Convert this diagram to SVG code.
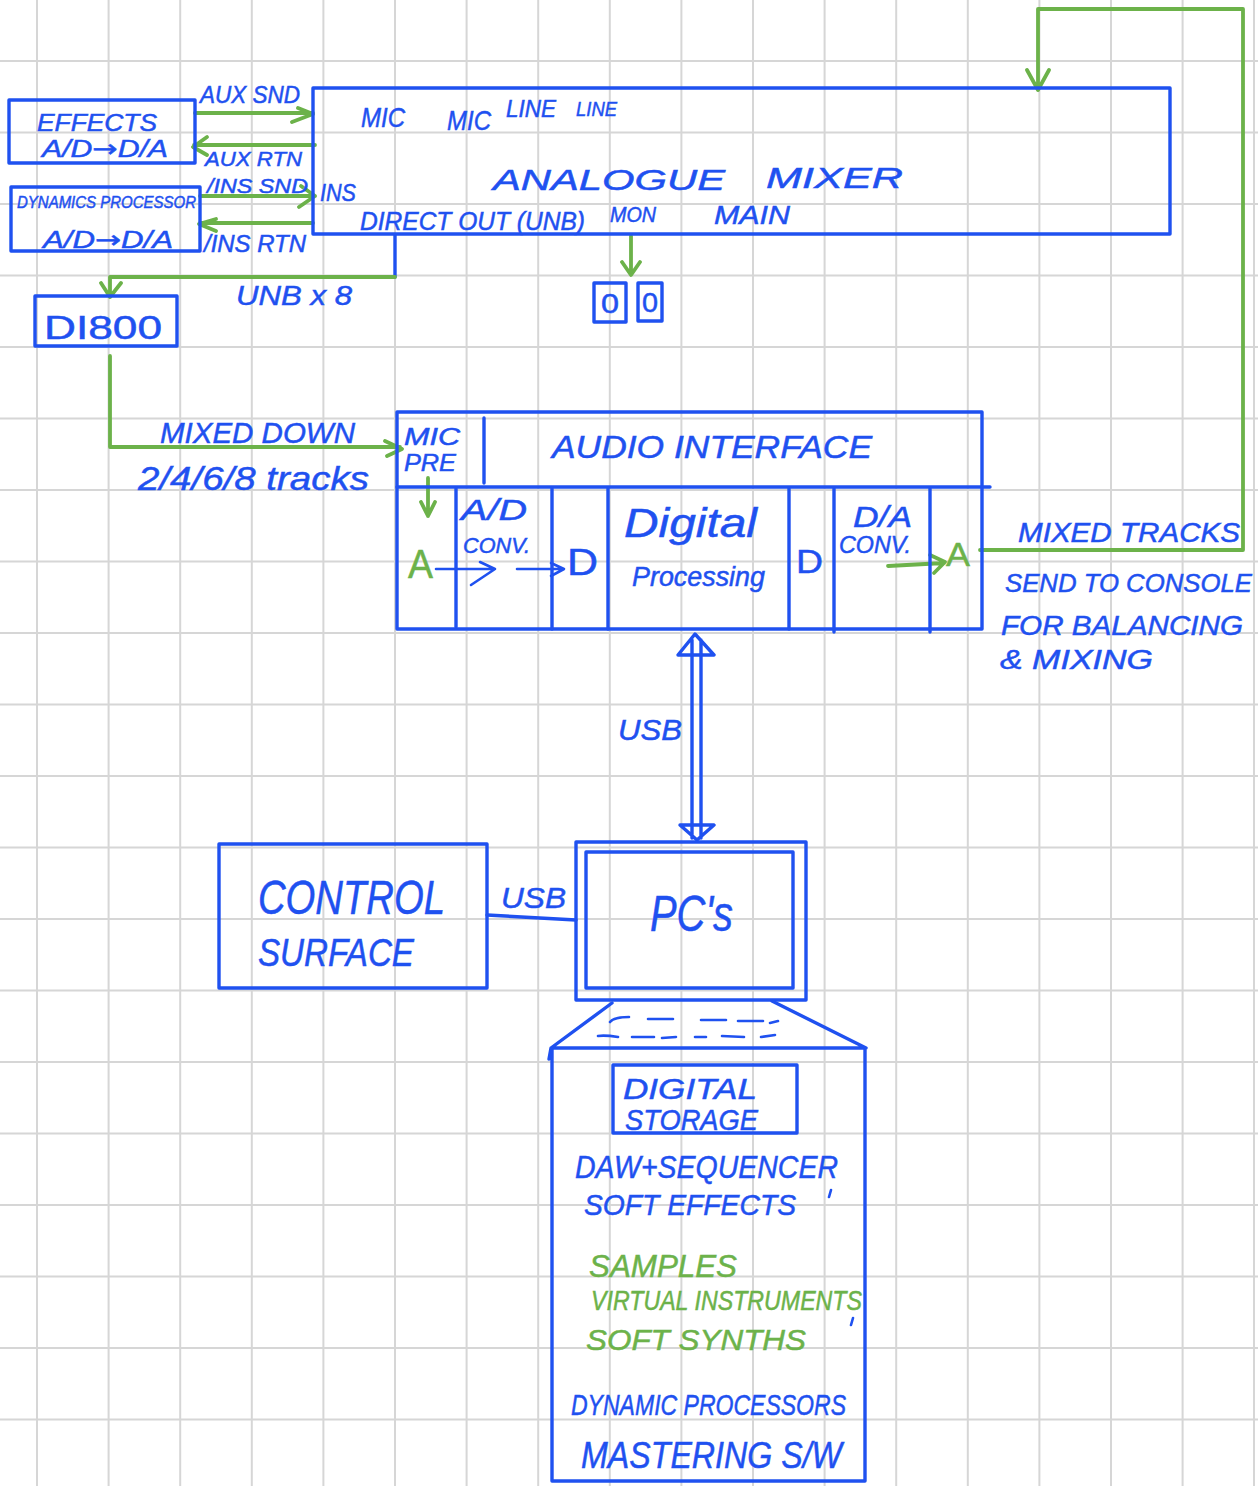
<svg xmlns="http://www.w3.org/2000/svg" width="1258" height="1486" viewBox="0 0 1258 1486">
<style>
.g{stroke:#d6d6d6;stroke-width:2;fill:none}
.b{stroke:#1f51f0;stroke-width:3.4;fill:none;stroke-linejoin:round;stroke-linecap:round}
.b2{stroke:#1f51f0;stroke-width:2.6;fill:none;stroke-linecap:round;stroke-linejoin:round}
.c{stroke:#6cb24a;stroke-width:3.8;fill:none;stroke-linecap:round;stroke-linejoin:round}
text{font-family:"Liberation Sans",Arial,sans-serif;font-style:italic;fill:#1f51f0;font-size:24px;stroke:#1f51f0;stroke-width:0.5}
.t{fill:#6cb24a;stroke:#6cb24a}
.u{font-style:normal}
.ar{font-family:"DejaVu Sans",sans-serif;font-style:normal}
</style>
<rect width="1258" height="1486" fill="#fff"/>
<g id="grid">
<path class="g" d="M37 0V1486M108.600 0V1486M180.200 0V1486M251.800 0V1486M323.400 0V1486M395 0V1486M466.600 0V1486M538.200 0V1486M609.800 0V1486M681.400 0V1486M753 0V1486M824.600 0V1486M896.200 0V1486M967.800 0V1486M1039.400 0V1486M1111 0V1486M1182.600 0V1486M1254 0V1486"/>
<path class="g" d="M0 61H1258M0 132.500H1258M0 204H1258M0 275.500H1258M0 347H1258M0 418.500H1258M0 490H1258M0 561.500H1258M0 633H1258M0 704.500H1258M0 776H1258M0 847.500H1258M0 919H1258M0 990.500H1258M0 1062H1258M0 1133.500H1258M0 1205H1258M0 1276.500H1258M0 1348H1258M0 1419.500H1258"/>
</g>
<g id="connectors">
<path class="c" d="M195 113H313M298 108L313 114L292 122"/>
<path class="c" d="M315 145H194M207 137L193 147L207 155"/>
<path class="c" d="M200 196H315M301 186L315 196L299 207"/>
<path class="c" d="M313 223H200M216 219L199 224L216 231"/>
<path class="b" d="M395 235V277"/>
<path class="c" d="M395 277H110V297M101 283L110 297L121 283"/>
<path class="c" d="M110 356V447H400M385 441L402 449L387 456"/>
<path class="c" d="M631 236V274M622 262L631 275L640 262"/>
<path class="c" d="M428 478V516M421 502L428 516L435 502"/>
<path class="c" d="M1038 90V9H1243V550H980M1027 70L1038 90L1049 70"/>
<path class="c" d="M888 566L944 563M930 555L945 562L934 573"/>
<path class="b2" d="M436 569H495M480 562L495 569L471 585"/>
<path class="b2" d="M517 569H563M551 563L564 569L551 576"/>
<path class="b" d="M692 640V838M701 640V838M678 655L695 634L714 655ZM680 825L697 840L714 825Z"/>
<path class="b" d="M487 915L576 920"/>
</g>
<g id="effects">
<rect class="b" x="9" y="100" width="186" height="63"/>
<text x="37" y="131" textLength="120" lengthAdjust="spacingAndGlyphs">EFFECTS</text>
<text x="42" y="157" textLength="126" lengthAdjust="spacingAndGlyphs">A/D<tspan class="ar">→</tspan>D/A</text>
</g>
<g id="dynamics">
<rect class="b" x="11" y="187" width="189" height="64"/>
<text x="17" y="208" textLength="179" lengthAdjust="spacingAndGlyphs" style="font-size:17px">DYNAMICS PROCESSOR</text>
<text x="43" y="248" textLength="130" lengthAdjust="spacingAndGlyphs">A/D<tspan class="ar">→</tspan>D/A</text>
</g>
<g id="labels">
<text x="200" y="103" textLength="100" lengthAdjust="spacingAndGlyphs">AUX SND</text>
<text x="205" y="166" textLength="97" lengthAdjust="spacingAndGlyphs" style="font-size:21px">AUX RTN</text>
<text x="207" y="193" textLength="101" lengthAdjust="spacingAndGlyphs" style="font-size:21px">/INS SND</text>
<text x="204" y="252" textLength="102" lengthAdjust="spacingAndGlyphs" style="font-size:23px">/INS RTN</text>
<text x="236" y="305" textLength="116" lengthAdjust="spacingAndGlyphs" style="font-size:28px">UNB x 8</text>
<text x="160" y="443" textLength="195" lengthAdjust="spacingAndGlyphs" style="font-size:30px">MIXED DOWN</text>
<text x="138" y="490" textLength="231" lengthAdjust="spacingAndGlyphs" style="font-size:34px">2/4/6/8 tracks</text>
<text x="1018" y="542" textLength="222" lengthAdjust="spacingAndGlyphs" style="font-size:27px">MIXED TRACKS</text>
<text x="1005" y="592" textLength="247" lengthAdjust="spacingAndGlyphs" style="font-size:25.500px">SEND TO CONSOLE</text>
<text x="1001" y="635" textLength="242" lengthAdjust="spacingAndGlyphs" style="font-size:27px">FOR BALANCING</text>
<text x="1000" y="669" textLength="153" lengthAdjust="spacingAndGlyphs" style="font-size:27px">&amp; MIXING</text>
<text x="618" y="740" textLength="64" lengthAdjust="spacingAndGlyphs" style="font-size:30px">USB</text>
<text x="501" y="908" textLength="65" lengthAdjust="spacingAndGlyphs" style="font-size:30px">USB</text>
</g>
<g id="analogue-mixer">
<rect class="b" x="313" y="88" width="857" height="146"/>
<text x="361" y="127" textLength="44" lengthAdjust="spacingAndGlyphs" style="font-size:28px">MIC</text>
<text x="447" y="130" textLength="44" lengthAdjust="spacingAndGlyphs" style="font-size:28px">MIC</text>
<text x="506" y="117" textLength="50" lengthAdjust="spacingAndGlyphs" style="font-size:23px">LINE</text>
<text x="576" y="116" textLength="41" lengthAdjust="spacingAndGlyphs" style="font-size:21px">LINE</text>
<text x="320" y="201" textLength="36" lengthAdjust="spacingAndGlyphs" style="font-size:24px">INS</text>
<text x="493" y="190" textLength="232" lengthAdjust="spacingAndGlyphs" style="font-size:30px">ANALOGUE</text>
<text x="766" y="188" textLength="137" lengthAdjust="spacingAndGlyphs" style="font-size:30px">MIXER</text>
<text x="360" y="230" textLength="225" lengthAdjust="spacingAndGlyphs" style="font-size:25px">DIRECT OUT (UNB)</text>
<text x="610" y="222" textLength="46" lengthAdjust="spacingAndGlyphs" style="font-size:22px">MON</text>
<text x="714" y="224" textLength="76" lengthAdjust="spacingAndGlyphs" style="font-size:26px">MAIN</text>
</g>
<g id="speakers">
<rect class="b" x="594" y="283" width="32" height="39"/>
<rect class="b" x="638" y="283" width="24" height="38"/>
<text class="u" x="601" y="313" textLength="18" lengthAdjust="spacingAndGlyphs" style="font-size:28px">0</text>
<text class="u" x="642" y="312" textLength="16" lengthAdjust="spacingAndGlyphs" style="font-size:28px">0</text>
</g>
<g id="di800">
<rect class="b" x="35" y="296" width="142" height="50"/>
<text class="u" x="44" y="339" textLength="118" lengthAdjust="spacingAndGlyphs" style="font-size:34px">DI800</text>
</g>
<g id="audio-interface">
<rect class="b" x="397" y="412" width="585" height="217"/>
<path class="b" d="M397 487H990M484 418V483M456 489V627M552 489V629M608 489V629M789 489V629M834 489V632M930 489V632"/>
<text x="404" y="445" textLength="56" lengthAdjust="spacingAndGlyphs" style="font-size:24px">MIC</text>
<text x="404" y="471" textLength="52" lengthAdjust="spacingAndGlyphs" style="font-size:24px">PRE</text>
<text x="552" y="458" textLength="320" lengthAdjust="spacingAndGlyphs" style="font-size:31px">AUDIO INTERFACE</text>
<text x="461" y="520" textLength="66" lengthAdjust="spacingAndGlyphs" style="font-size:30px">A/D</text>
<text x="463" y="553" textLength="67" lengthAdjust="spacingAndGlyphs" style="font-size:22px">CONV.</text>
<text class="t u" x="408" y="578" textLength="25" lengthAdjust="spacingAndGlyphs" style="font-size:40px">A</text>
<text class="u" x="567" y="575" textLength="31" lengthAdjust="spacingAndGlyphs" style="font-size:36px">D</text>
<text x="624" y="537" textLength="133" lengthAdjust="spacingAndGlyphs" style="font-size:40px">Digital</text>
<text x="632" y="586" textLength="133" lengthAdjust="spacingAndGlyphs" style="font-size:28px">Processing</text>
<text class="u" x="796" y="573" textLength="27" lengthAdjust="spacingAndGlyphs" style="font-size:34px">D</text>
<text x="853" y="527" textLength="59" lengthAdjust="spacingAndGlyphs" style="font-size:30px">D/A</text>
<text x="839" y="553" textLength="72" lengthAdjust="spacingAndGlyphs" style="font-size:24px">CONV.</text>
<text class="t u" x="946" y="566" textLength="24" lengthAdjust="spacingAndGlyphs" style="font-size:34px">A</text>
</g>
<g id="control-surface">
<rect class="b" x="219" y="844" width="268" height="144"/>
<text x="258" y="914" textLength="187" lengthAdjust="spacingAndGlyphs" style="font-size:48px">CONTROL</text>
<text x="258" y="966" textLength="156" lengthAdjust="spacingAndGlyphs" style="font-size:38px">SURFACE</text>
</g>
<g id="pc">
<rect class="b" x="576" y="842" width="230" height="158"/>
<rect class="b" x="586" y="852" width="207" height="136"/>
<text x="650" y="931" textLength="83" lengthAdjust="spacingAndGlyphs" style="font-size:50px">PC's</text>
<path class="b" d="M612 1003L551 1048L549 1059M772 1001L866 1048M551 1048H866M552 1048V1481H865V1048"/>
<path class="b2" d="M610 1022Q614 1017 629 1017M648 1019H673M701 1020H726M738 1021H763M770 1023L778 1021M598 1036Q605 1035 618 1037M632 1037H654M662 1038L676 1037M695 1037H706M722 1036L744 1037M761 1037L775 1035"/>
<path class="b2" d="M831 1190L829 1197M853 1318L851 1325"/>
</g>
<g id="digital-storage">
<rect class="b" x="613" y="1065" width="184" height="68"/>
<text x="623" y="1099" textLength="134" lengthAdjust="spacingAndGlyphs" style="font-size:30px">DIGITAL</text>
<text x="625" y="1130" textLength="133" lengthAdjust="spacingAndGlyphs" style="font-size:30px">STORAGE</text>
</g>
<g id="software">
<text x="575" y="1178" textLength="263" lengthAdjust="spacingAndGlyphs" style="font-size:32px">DAW+SEQUENCER</text>
<text x="584" y="1215" textLength="212" lengthAdjust="spacingAndGlyphs" style="font-size:30px">SOFT EFFECTS</text>
<text class="t" x="589" y="1277" textLength="148" lengthAdjust="spacingAndGlyphs" style="font-size:32px">SAMPLES</text>
<text class="t" x="591" y="1310" textLength="271" lengthAdjust="spacingAndGlyphs" style="font-size:28px">VIRTUAL INSTRUMENTS</text>
<text class="t" x="586" y="1350" textLength="220" lengthAdjust="spacingAndGlyphs" style="font-size:30px">SOFT SYNTHS</text>
<text x="571" y="1415" textLength="275" lengthAdjust="spacingAndGlyphs" style="font-size:30px">DYNAMIC PROCESSORS</text>
<text x="581" y="1468" textLength="261" lengthAdjust="spacingAndGlyphs" style="font-size:36px">MASTERING S/W</text>
</g>
</svg>
